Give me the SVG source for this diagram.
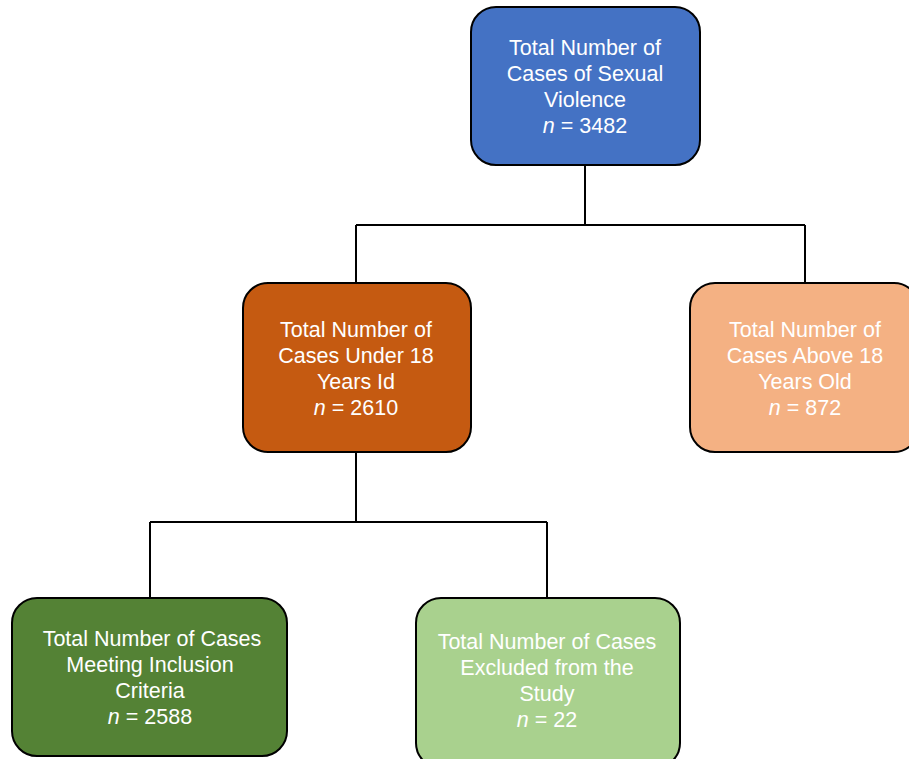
<svg xmlns="http://www.w3.org/2000/svg" width="909" height="759" viewBox="0 0 909 759">
<style>
.box{stroke:#000;stroke-width:2}
.t{font-family:"Liberation Sans",Arial,sans-serif;font-size:21.5px;fill:#fff;text-anchor:middle}
.i{font-style:italic}
.c{stroke:#000;stroke-width:2;fill:none}
</style>
<rect width="909" height="759" fill="#fff"/>
<g id="connectors">
<path class="c" d="M585 165V225M356 225H805M356 225V283M805 225V283"/>
<path class="c" d="M356 452V522M150 522H547M150 522V598M547 522V598"/>
</g>
<g id="n1">
<rect class="box" x="471" y="7" width="229" height="158" rx="25" fill="#4472C4"/>
<text class="t" x="585" y="55">Total Number of</text>
<text class="t" x="585" y="81">Cases of Sexual</text>
<text class="t" x="585" y="107">Violence</text>
<text class="t" x="585" y="133"><tspan class="i">n</tspan> = 3482</text>
</g>
<g id="n2">
<rect class="box" x="243" y="283" width="228" height="169" rx="25" fill="#C55A11"/>
<text class="t" x="356" y="337">Total Number of</text>
<text class="t" x="356" y="363">Cases Under 18</text>
<text class="t" x="356" y="389">Years Id</text>
<text class="t" x="356" y="415"><tspan class="i">n</tspan> = 2610</text>
</g>
<g id="n3">
<rect class="box" x="690" y="283" width="229" height="169" rx="25" fill="#F4B183"/>
<text class="t" x="805" y="337">Total Number of</text>
<text class="t" x="805" y="363">Cases Above 18</text>
<text class="t" x="805" y="389">Years Old</text>
<text class="t" x="805" y="415"><tspan class="i">n</tspan> = 872</text>
</g>
<g id="n4">
<rect class="box" x="12" y="598" width="275" height="158" rx="25" fill="#548235"/>
<text class="t" x="152" y="646">Total Number of Cases</text>
<text class="t" x="150" y="672">Meeting Inclusion</text>
<text class="t" x="150" y="698">Criteria</text>
<text class="t" x="150" y="724"><tspan class="i">n</tspan> = 2588</text>
</g>
<g id="n5">
<rect class="box" x="416" y="598" width="264" height="170" rx="25" fill="#A9D18E"/>
<text class="t" x="547" y="649">Total Number of Cases</text>
<text class="t" x="547" y="675">Excluded from the</text>
<text class="t" x="547" y="701">Study</text>
<text class="t" x="547" y="727"><tspan class="i">n</tspan> = 22</text>
</g>
</svg>
